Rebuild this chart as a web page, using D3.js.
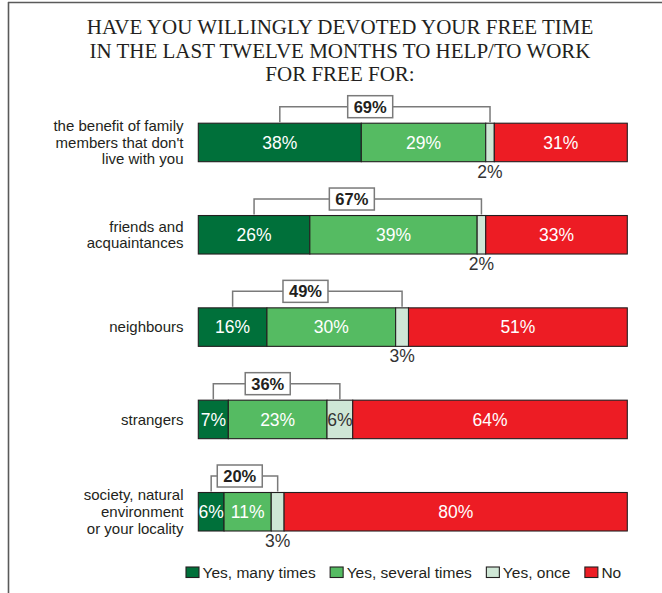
<!DOCTYPE html>
<html>
<head>
<meta charset="utf-8">
<script src="https://cdn.jsdelivr.net/npm/d3@7/dist/d3.min.js"></script>
<style>
  html, body { margin: 0; padding: 0; background: #fff; }
  svg { display: block; }
</style>
</head>
<body>
<script>
// Survey answers (percent of respondents) per beneficiary group
const categories = [
  "the benefit of family\nmembers that don't\nlive with you",
  "friends and\nacquaintances",
  "neighbours",
  "strangers",
  "society, natural\nenvironment\nor your locality"
];
const seriesNames = ["Yes, many times", "Yes, several times", "Yes, once", "No"];
const yesManyTimes = [38, 26, 16, 7, 6];
const yesSeveralTimes = [29, 39, 30, 23, 11];
const yesOnce = [2, 2, 3, 6, 3];
const no = [31, 33, 51, 64, 80];
const yesTotal = [69, 67, 49, 36, 20];
const titleLines = [
  "HAVE YOU WILLINGLY DEVOTED YOUR FREE TIME",
  "IN THE LAST TWELVE MONTHS TO HELP/TO WORK",
  "FOR FREE FOR:"
];

const W = 662, H = 593;
const colors = ["#00703a", "#55bb62", "#cfe7d6", "#ed1c24"];
const labelColors = ["#fff", "#fff", "#333", "#fff"];
const sansFont = "'Liberation Sans', Arial, sans-serif";

const rows = categories.map((c, i) => ({
  category: c,
  [seriesNames[0]]: yesManyTimes[i],
  [seriesNames[1]]: yesSeveralTimes[i],
  [seriesNames[2]]: yesOnce[i],
  [seriesNames[3]]: no[i],
  total: yesTotal[i]
}));

const stacked = d3.stack().keys(seriesNames)(rows);

const svg = d3.select("body").append("svg")
  .attr("width", W).attr("height", H);

// frame lines along the top and left edges
svg.append("line").attr("x1", 8).attr("x2", W).attr("y1", 2.5).attr("y2", 2.5)
  .attr("stroke", "#5a5a5a").attr("stroke-width", 1.6);
svg.append("line").attr("x1", 8.5).attr("x2", 8.5).attr("y1", 2).attr("y2", H)
  .attr("stroke", "#5a5a5a").attr("stroke-width", 1.6);

// title
svg.append("g").selectAll("text").data(titleLines).join("text")
  .attr("x", 340)
  .attr("y", (d, i) => 34.3 + i * 23.3)
  .attr("text-anchor", "middle")
  .attr("font-family", "'Liberation Serif', 'Times New Roman', serif")
  .attr("font-size", 21)
  .attr("fill", "#231f20")
  .text(d => d);

const x = d3.scaleLinear().domain([0, 100]).range([198.3, 627.3]);
const y = d3.scaleBand().domain(categories).range([123.2, 531])
  .paddingInner(0.583).paddingOuter(0);
const bw = y.bandwidth();

// category labels (multi-line, right aligned)
const lineH = 16.8;
const catG = svg.append("g");
categories.forEach(c => {
  const lines = c.split("\n");
  const cy = y(c) + bw / 2;
  const t = catG.append("text")
    .attr("text-anchor", "end")
    .attr("font-family", sansFont)
    .attr("font-size", 15)
    .attr("fill", "#231f20");
  lines.forEach((ln, j) => {
    t.append("tspan")
      .attr("x", 183.5)
      .attr("y", cy + (j - (lines.length - 1) / 2) * lineH)
      .attr("dy", "0.35em")
      .text(ln);
  });
});

// stacked bar segments
const segG = svg.append("g");
stacked.forEach((layer, k) => {
  segG.append("g").selectAll("rect").data(layer).join("rect")
    .attr("x", d => x(d[0]))
    .attr("y", d => y(d.data.category))
    .attr("width", d => x(d[1]) - x(d[0]))
    .attr("height", bw)
    .attr("fill", colors[k])
    .attr("stroke", "#231f20")
    .attr("stroke-width", 1.1);
});

// value labels
stacked.forEach((layer, k) => {
  segG.append("g").selectAll("text").data(layer).join("text")
    .each(function (d) {
      const v = d[1] - d[0];
      const cx = (x(d[0]) + x(d[1])) / 2;
      const top = y(d.data.category);
      const outside = k === 2 && v < 5;
      d3.select(this)
        .attr("x", cx)
        .attr("y", outside ? top + bw + 16 : top + bw / 2)
        .attr("dy", outside ? 0 : "0.36em")
        .attr("fill", outside ? "#333" : labelColors[k]);
    })
    .attr("text-anchor", "middle")
    .attr("font-family", sansFont)
    .attr("font-size", 17.5)
    .text(d => Math.round(d[1] - d[0]) + "%");
});

// brackets summarising all "yes" answers
const bracketG = svg.append("g");
rows.forEach((r, i) => {
  const top = y(r.category);
  const s0 = stacked[0][i], s2 = stacked[2][i];
  const xl = x((s0[0] + s0[1]) / 2);
  const xr = x((s2[0] + s2[1]) / 2);
  const yb = top - 16.5;
  bracketG.append("path")
    .attr("d", `M${xl},${top - 1}V${yb}H${xr}V${top - 1}`)
    .attr("fill", "none")
    .attr("stroke", "#7a7a7a")
    .attr("stroke-width", 1.5);
  const bx = xl + 0.43 * (xr - xl);
  bracketG.append("rect")
    .attr("x", bx - 22.5).attr("y", yb - 11)
    .attr("width", 45).attr("height", 22)
    .attr("fill", "#fff")
    .attr("stroke", "#7a7a7a")
    .attr("stroke-width", 1.5);
  bracketG.append("text")
    .attr("x", bx).attr("y", yb)
    .attr("dy", "0.36em")
    .attr("text-anchor", "middle")
    .attr("font-family", sansFont)
    .attr("font-weight", "bold")
    .attr("font-size", 16.5)
    .attr("fill", "#231f20")
    .text(r.total + "%");
});

// legend
const legG = svg.append("g");
let lx = 186;
seriesNames.forEach((name, k) => {
  legG.append("rect")
    .attr("x", lx).attr("y", 567)
    .attr("width", 13).attr("height", 10.5)
    .attr("fill", colors[k])
    .attr("stroke", "#231f20")
    .attr("stroke-width", 1.1);
  const t = legG.append("text")
    .attr("x", lx + 16.5).attr("y", 578)
    .attr("font-family", sansFont)
    .attr("font-size", 15.5)
    .attr("fill", "#231f20")
    .text(name);
  lx += 16.5 + t.node().getComputedTextLength() + 14.5;
});
</script>
</body>
</html>
